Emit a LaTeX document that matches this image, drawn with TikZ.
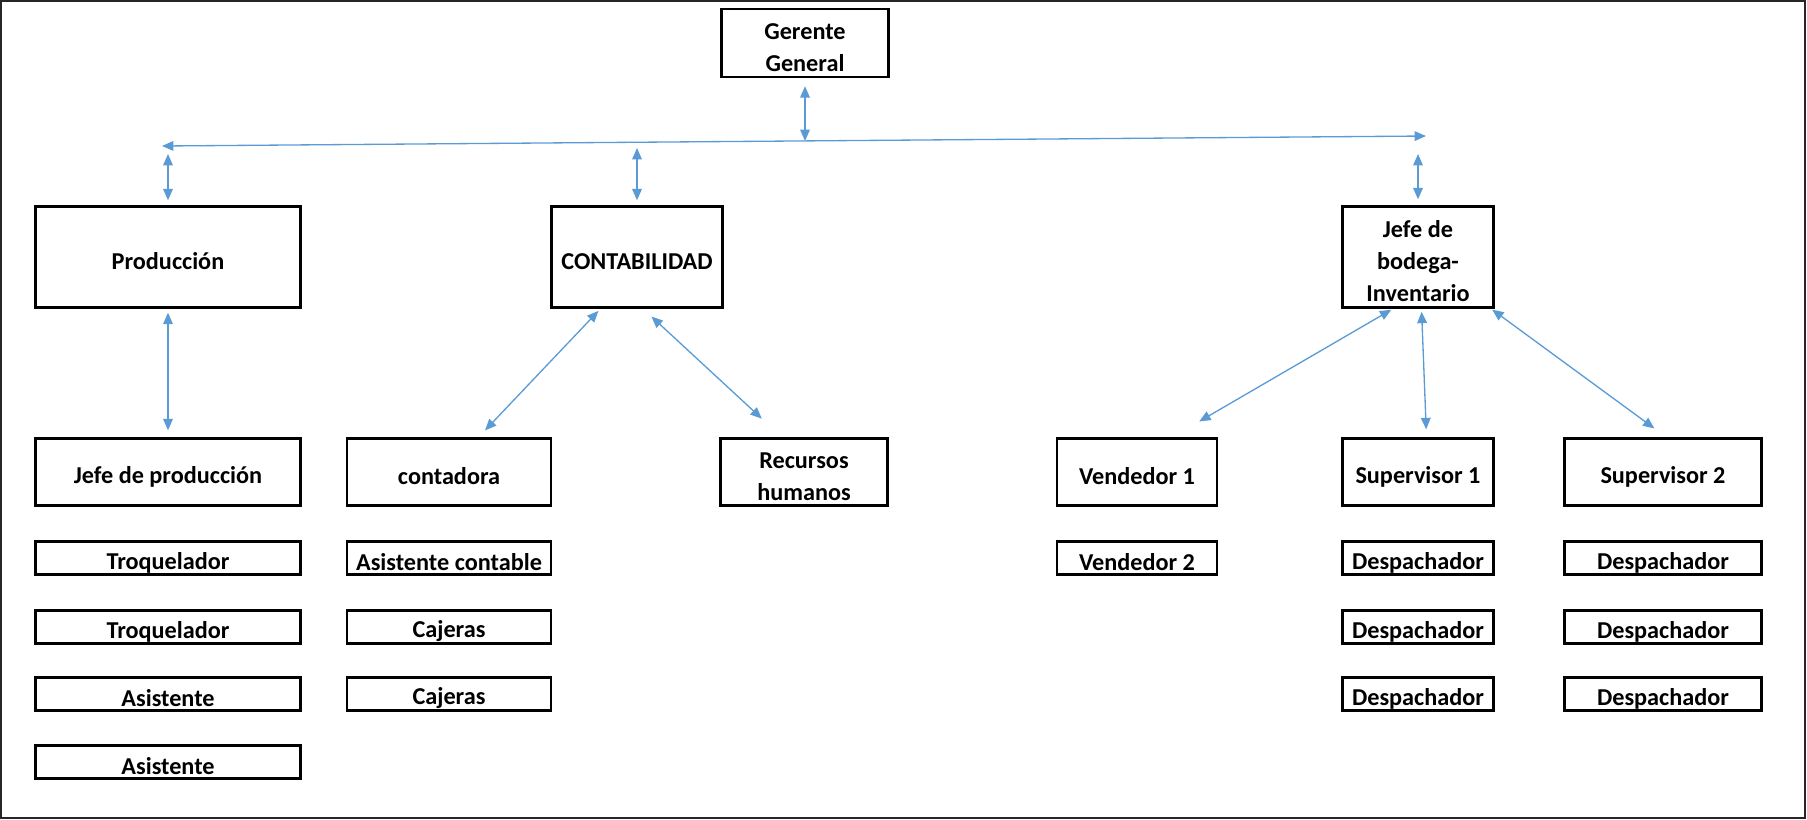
\documentclass[tikz,border=0pt]{standalone}
\usepackage{fontspec}
\setmainfont{Carlito}
\usepackage{xcolor}
\usetikzlibrary{arrows.meta}
\definecolor{flechaazul}{RGB}{91,155,213}
\newcommand{\alto}{\rule{0pt}{1.07em}}

\begin{document}
\begin{tikzpicture}[x=0.02cm, y=-0.02cm,
  caja/.style={draw, line width=1.4pt, align=center, inner xsep=2pt, inner ysep=0pt,
    font=\fontsize{13.8}{18.2}\selectfont\bfseries,
    execute at begin node={\alto}},
  grande/.style={caja, minimum height=2.02cm},
  media/.style={caja, minimum height=1.34cm},
  chica/.style={caja, minimum height=0.66cm},
  flecha/.style={draw=flechaazul, line width=0.75pt,
    {Triangle[length=6.5pt,width=5.5pt]}-{Triangle[length=6.5pt,width=5.5pt]}}]

\useasboundingbox (0,0) rectangle (1807,819);
\draw[line width=1.2pt, black!85] (1,1) rectangle (1805,818);

%%%gerencia
\node[caja, minimum width=3.34cm, minimum height=1.36cm] (gg) at (805,43) {\alto Gerente\\General};

%%%jefaturas
\node[grande, minimum width=5.3cm] (prod) at (168,257) {Producción};
\node[grande, minimum width=3.42cm] (cont) at (637,257) {CONTABILIDAD};
\node[grande, minimum width=3.02cm] (jb) at (1418,257) {\alto Jefe de\\bodega-\\Inventario};

%%%segundo nivel
\node[media, minimum width=5.3cm] (jp) at (168,472) {Jefe de producción};
\node[media, minimum width=4.08cm] (cd) at (449,472) {contadora};
\node[media, minimum width=3.34cm] (rh) at (804,472) {\alto Recursos\\humanos};
\node[media, minimum width=3.2cm] (v1) at (1137,472) {Vendedor 1};
\node[media, minimum width=3.02cm] (s1) at (1418,472) {Supervisor 1};
\node[media, minimum width=3.94cm] (s2) at (1663,472) {Supervisor 2};

%%%produccion
\node[chica, minimum width=5.3cm] (tq1) at (168,558) {Troquelador};
\node[chica, minimum width=5.3cm] (tq2) at (168,627) {Troquelador};
\node[chica, minimum width=5.3cm] (as1) at (168,694) {Asistente};
\node[chica, minimum width=5.3cm] (as2) at (168,762) {Asistente};

%%%contabilidad
\node[chica, minimum width=4.08cm] (ac) at (449,558) {Asistente contable};
\node[chica, minimum width=4.08cm] (cj1) at (449,627) {Cajeras};
\node[chica, minimum width=4.08cm] (cj2) at (449,694) {Cajeras};

%%%bodega
\node[chica, minimum width=3.2cm] (v2) at (1137,558) {Vendedor 2};
\node[chica, minimum width=3.02cm] (d11) at (1418,558) {Despachador};
\node[chica, minimum width=3.02cm] (d12) at (1418,627) {Despachador};
\node[chica, minimum width=3.02cm] (d13) at (1418,694) {Despachador};
\node[chica, minimum width=3.94cm] (d21) at (1663,558) {Despachador};
\node[chica, minimum width=3.94cm] (d22) at (1663,627) {Despachador};
\node[chica, minimum width=3.94cm] (d23) at (1663,694) {Despachador};

%%%flechas
\coordinate (busL) at (162,146);
\coordinate (busR) at (1426,136);
\coordinate (busG) at (805,141);
\coordinate (upP) at (168,154);
\coordinate (upC) at (637,148);
\coordinate (upJ) at (1418,154);

\draw[flecha] (busL) -- (busR);
\draw[flecha, shorten <=0.16cm] (gg.south) -- (busG);
\draw[flecha, shorten >=0.1cm] (upP) -- (prod.north);
\draw[flecha, shorten >=0.1cm] (upC) -- (cont.north);
\draw[flecha, shorten >=0.12cm] (upJ) -- (jb.north);

\draw[flecha, shorten <=0.08cm, shorten >=0.14cm] (prod.south) -- (jp.north);
\draw[flecha, shorten <=0.06cm, shorten >=0.19cm] ([xshift=-0.73cm]cont.south) -- ([xshift=0.59cm]cd.north);
\draw[flecha, shorten <=0.23cm, shorten >=0.55cm] ([xshift=0.12cm]cont.south) -- ([xshift=-0.44cm]rh.north);

\draw[flecha, shorten <=0.04cm, shorten >=0.63cm] ([xshift=-0.5cm]jb.south) -- ([xshift=0.7cm]v1.north);
\draw[flecha, shorten <=0.06cm, shorten >=0.16cm] ([xshift=0.07cm]jb.south) -- ([xshift=0.17cm]s1.north);
\draw[flecha, shorten <=0.03cm, shorten >=0.3cm] ([xshift=1.46cm]jb.south) -- ([xshift=0.07cm]s2.north);

\end{tikzpicture}
\end{document}
